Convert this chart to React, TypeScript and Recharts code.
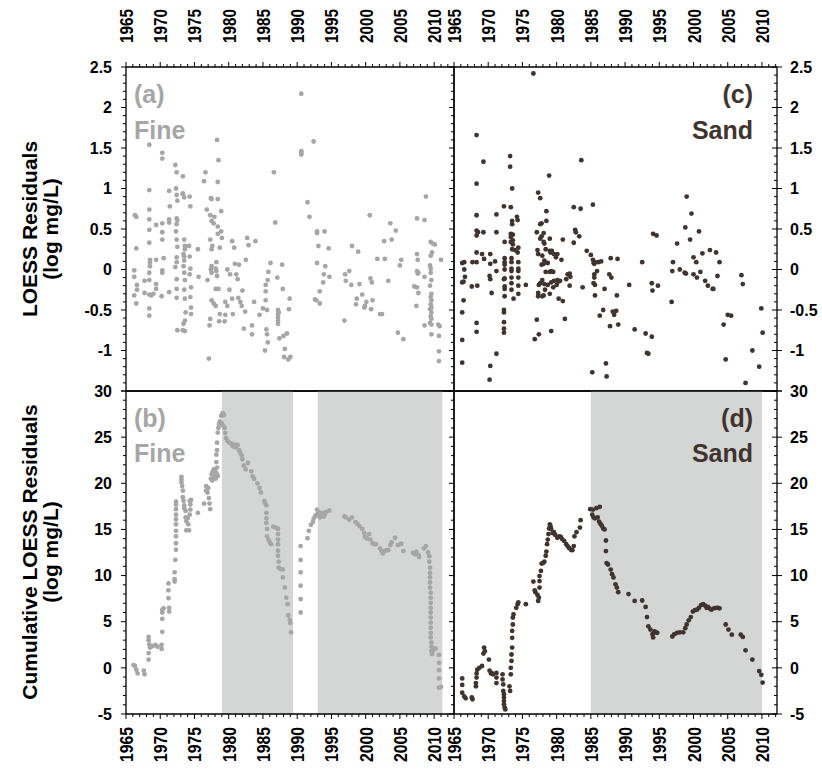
import React from 'react'
import { ScatterChart, Scatter, XAxis, YAxis, ReferenceArea } from 'recharts'

// page is photographed at 822x771; charts are laid over the whole page
const W = 822
const H = 771

const yearLabels = [1965, 1970, 1975, 1980, 1985, 1990, 1995, 2000, 2005, 2010]
const residLabels = [-1, -0.5, 0, 0.5, 1, 1.5, 2, 2.5]
const cumLabels = [-5, 0, 5, 10, 15, 20, 25, 30]

const fineShaded: [number, number][] = [[1979, 1989.4], [1993, 2011.2]]
const sandShaded: [number, number][] = [[1985, 2010]]

// (a) Fine, LOESS residuals [year, log mg/L]
const fineResiduals: [number, number][] = [
  [1966.3, 0.67], [1966.5, 0.65], [1966.5, 0.26], [1966.2, -0.01], [1966.2, -0.09], [1966.6, -0.19], [1966.2, -0.32], [1966.5, -0.42], [1966.6, -0.25],
  [1967.7, -0.14], [1967.7, -0.29],
  [1968.4, 1.54], [1968.4, 0.98], [1968.4, 0.74], [1968.4, 0.62], [1968.4, 0.49], [1968.4, 0.33], [1968.5, 0.12], [1968.5, 0.09], [1968.5, 0.04], [1968.4, -0.04], [1968.4, -0.13], [1968.4, -0.31], [1968.7, -0.32], [1968.4, -0.48], [1968.4, -0.57],
  [1969.0, -0.3], [1969.4, 0.55], [1969.4, 0.12], [1969.4, -0.18], [1969.4, -0.24],
  [1970.3, 1.44], [1970.3, 1.37], [1970.3, 0.57], [1970.3, 0.46], [1970.3, 0.37], [1970.3, -0.01], [1970.5, 0.14], [1970.3, -0.04], [1970.2, -0.33],
  [1971.3, 0.97], [1971.4, 0.78], [1971.3, 0.62], [1971.3, 0.58], [1971.3, -0.28],
  [1972.2, 1.29], [1972.4, 1.2], [1972.3, 1.0], [1972.4, 0.92], [1972.5, 0.85], [1972.4, 0.63], [1972.5, 0.61], [1972.4, 0.56], [1972.3, 0.47], [1972.4, 0.37], [1972.5, 0.28], [1972.4, 0.15], [1972.4, 0.09], [1972.2, 0.03], [1972.4, -0.12], [1972.4, -0.24], [1972.4, -0.35], [1972.5, -0.75],
  [1973.3, 1.15], [1973.3, 0.94], [1973.3, 0.93], [1973.5, 0.89],
  [1973.5, 0.37], [1973.6, 0.29], [1973.6, 0.25], [1973.4, 0.19], [1973.5, 0.16], [1973.5, 0.11], [1973.4, 0.04], [1973.5, -0.04], [1973.6, -0.13], [1973.5, -0.25], [1973.6, -0.36], [1973.7, -0.53], [1973.6, -0.63], [1973.4, -0.67], [1973.3, -0.75], [1973.6, -0.76],
  [1974.3, 0.9], [1974.4, 0.78], [1974.2, 0.29], [1974.3, 0.16], [1974.4, 0.01], [1974.3, -0.06], [1974.5, -0.22], [1974.4, -0.34], [1974.5, -0.47], [1974.5, -0.55],
  [1975.5, 0.25], [1975.6, -0.09],
  [1976.4, 1.09], [1976.6, 1.2], [1976.8, 0.74],
  [1977.4, 0.88], [1977.5, 0.87], [1977.3, 0.67], [1977.5, 0.6], [1977.8, 0.57], [1977.3, 0.37], [1977.6, 0.29], [1977.5, 0.25], [1977.5, 0.04], [1977.4, 0.0], [1977.5, -0.04],
  [1976.9, -0.13], [1977.5, -0.38], [1977.8, -0.42], [1978.1, -0.45], [1977.3, -0.61], [1977.2, -0.69], [1977.1, -1.1],
  [1978.3, 1.6], [1978.5, 1.35], [1978.4, 1.08], [1978.4, 0.87], [1978.9, 0.72], [1977.9, 0.65], [1978.4, 0.53], [1978.4, 0.44], [1978.9, 0.47], [1979.0, 0.39], [1978.7, 0.27],
  [1978.2, 0.09], [1978.1, 0.01], [1978.2, -0.02], [1978.3, -0.08], [1978.5, -0.24], [1978.1, -0.24], [1978.7, -0.55], [1979.4, -0.64], [1978.6, -0.64],
  [1979.5, -0.4], [1979.8, -0.45], [1979.5, -0.56], [1980.5, -0.36], [1980.1, -0.25], [1980.6, -0.55], [1979.8, 0.0],
  [1980.5, 0.35], [1980.8, 0.27], [1980.2, -0.06], [1980.9, 0.07], [1981.1, -0.06], [1981.3, -0.12], [1981.5, 0.06],
  [1981.4, -0.35], [1981.7, -0.4], [1981.9, -0.45], [1982.4, -0.52], [1982.0, -0.26],
  [1982.2, -0.73], [1983.4, -0.69], [1983.4, -0.8], [1983.7, -0.4], [1982.5, 0.12],
  [1982.7, 0.39], [1982.9, 0.3], [1983.9, 0.35], [1984.5, -0.56],
  [1985.0, -0.48], [1985.6, -0.5], [1985.4, -0.19], [1985.7, -0.13], [1985.4, -0.27], [1985.4, -0.38],
  [1985.5, -0.74], [1985.6, -0.8], [1985.7, -0.9], [1985.3, -1.0], [1985.8, -0.03], [1986.1, 0.08],
  [1986.6, 1.2], [1986.8, 0.58],
  [1987.1, -0.1], [1987.2, -0.5], [1987.2, -0.55], [1987.2, -0.59], [1987.2, -0.63], [1987.2, -0.67], [1987.3, -0.53],
  [1987.8, 0.06], [1987.9, -0.24], [1987.4, -0.85], [1988.0, -0.82], [1988.5, -0.79], [1988.2, -0.98], [1988.1, -1.08], [1988.7, -1.11], [1989.0, -1.08], [1988.9, -0.36], [1988.8, -0.49],
  [1990.6, 2.17], [1990.6, 1.46], [1990.6, 1.44], [1990.6, 1.42], [1992.4, 1.58], [1991.5, 0.83], [1991.8, 0.65],
  [1992.9, 0.47], [1992.9, 0.45], [1994.0, 0.47], [1993.1, 0.29], [1994.6, 0.26],
  [1992.9, 0.08], [1994.1, 0.04], [1993.9, -0.06], [1994.7, -0.09], [1993.8, -0.16],
  [1993.3, -0.27], [1992.6, -0.37], [1992.8, -0.38], [1993.3, -0.42],
  [1997.0, -0.06], [1997.1, -0.14], [1997.6, -0.02], [1997.9, -0.19], [1998.9, 0.22], [1998.0, 0.29], [1999.1, -0.18], [1996.9, -0.63],
  [1998.7, -0.36], [1998.6, -0.43], [1999.5, -0.31], [1999.8, -0.47], [2000.1, -0.4], [1999.9, -0.45], [2000.9, -0.16], [2000.7, -0.11], [2001.0, -0.38], [2000.8, -0.49], [2002.1, -0.55], [2002.4, -0.55],
  [2000.6, 0.67],
  [2001.7, 0.13], [2002.8, 0.13], [2002.7, 0.35], [2003.3, -0.14], [2003.8, 0.37], [2003.6, 0.57], [2004.4, 0.48], [2005.0, 0.05], [2005.2, 0.12], [2004.7, -0.78], [2005.5, -0.86],
  [2007.5, 0.63], [2008.6, 0.61], [2008.8, 0.9],
  [2007.5, 0.19], [2007.6, 0.12], [2007.5, -0.02], [2007.7, -0.04], [2007.6, -0.05], [2007.1, -0.21], [2007.5, -0.22], [2007.7, -0.29], [2007.4, -0.45], [2008.6, -0.09], [2008.6, -0.69],
  [2009.5, 0.34], [2009.8, 0.32], [2010.1, 0.31], [2009.7, 0.21], [2009.5, 0.17], [2009.4, 0.05], [2009.5, 0.01], [2009.5, -0.04], [2009.6, -0.13], [2009.4, -0.2], [2009.6, -0.3], [2009.5, -0.34], [2009.6, -0.38], [2009.5, -0.43], [2009.6, -0.47], [2009.4, -0.49], [2009.6, -0.53], [2009.5, -0.58], [2009.6, -0.61], [2009.4, -0.66], [2009.6, -0.68], [2009.6, -0.8],
  [2010.6, -0.68], [2010.8, -0.7], [2010.7, -0.82], [2010.7, -1.01], [2010.7, -1.13], [2011.0, 0.12],
]

// (c) Sand, LOESS residuals
const sandResiduals: [number, number][] = [
  [1976.6, 2.42], [1968.3, 1.66], [1969.3, 1.33], [1968.3, 1.06], [1973.2, 1.4], [1973.2, 1.27], [1973.5, 1.0], [1978.9, 1.16], [1983.6, 1.35], [1977.3, 0.95], [1977.6, 0.88], [1985.3, 0.8], [1983.5, 0.75], [1982.5, 0.77],
  [1968.3, 0.67], [1968.3, 0.48], [1968.5, 0.46], [1968.3, 0.42], [1969.3, 0.46], [1971.2, 0.68], [1971.2, 0.46],
  [1972.3, 0.78], [1973.3, 0.77], [1974.2, 0.65], [1974.3, 0.61], [1973.5, 0.6], [1973.5, 0.56], [1973.3, 0.44], [1973.6, 0.43], [1973.3, 0.4], [1973.6, 0.36], [1973.6, 0.31], [1973.3, 0.34], [1972.4, 0.34], [1974.4, 0.27], [1973.9, 0.24], [1973.5, 0.25], [1974.3, 0.21],
  [1973.4, 0.14], [1972.4, 0.14], [1972.4, 0.09], [1972.4, 0.06], [1973.4, 0.09], [1974.4, 0.09], [1974.4, 0.01], [1974.4, -0.02], [1973.4, 0.01], [1973.4, -0.02], [1972.4, 0.0], [1972.3, -0.12], [1972.4, -0.11], [1973.4, -0.1], [1974.4, -0.1],
  [1973.4, -0.17], [1972.4, -0.21], [1972.4, -0.24], [1974.4, -0.2], [1973.4, -0.25], [1972.4, -0.33], [1974.4, -0.3], [1973.7, -0.36], [1972.3, -0.5], [1972.3, -0.53], [1972.3, -0.65], [1972.3, -0.73], [1972.3, -0.78], [1971.2, -1.04], [1970.3, -1.19], [1970.2, -1.36],
  [1966.2, 0.08], [1966.5, 0.09], [1966.5, 0.0], [1966.6, -0.09], [1966.2, -0.16], [1966.4, -0.15], [1966.4, -0.38], [1966.2, -0.53], [1966.2, -0.87], [1966.2, -1.15], [1967.7, 0.09], [1967.6, -0.21], [1968.3, 0.21], [1968.3, 0.09], [1968.4, -0.2], [1968.3, -0.66], [1968.3, -0.77],
  [1969.1, 0.19], [1969.4, 0.13], [1970.3, 0.19], [1970.3, 0.07], [1970.2, -0.08], [1970.3, -0.12], [1970.5, -0.29], [1971.2, -0.02], [1971.0, 0.1],
  [1975.5, -0.19], [1976.8, -0.86], [1977.4, -0.8], [1977.1, -0.62],
  [1977.1, 0.46], [1977.2, 0.24], [1977.3, 0.19], [1977.6, 0.56], [1977.8, 0.57], [1978.5, 0.72], [1978.5, 0.6], [1978.1, 0.45], [1977.8, 0.41], [1977.6, 0.38], [1978.1, 0.34], [1978.2, 0.32], [1979.0, 0.38], [1978.4, 0.25], [1979.0, 0.23], [1979.1, 0.21], [1979.3, 0.23], [1979.6, 0.19], [1980.1, 0.19], [1979.9, 0.15],
  [1977.9, 0.17], [1978.2, 0.11], [1978.1, 0.07], [1978.7, 0.08], [1977.8, 0.06], [1979.2, -0.02], [1979.5, -0.03], [1979.0, -0.03], [1978.4, -0.03], [1977.9, -0.13], [1977.6, -0.17], [1977.4, -0.19], [1978.2, -0.18], [1978.7, -0.19], [1978.3, -0.25], [1977.3, -0.29], [1977.3, -0.33], [1977.9, -0.33], [1978.1, -0.32],
  [1979.0, -0.3], [1979.5, -0.22], [1979.2, -0.16], [1979.6, -0.14], [1980.1, -0.13], [1980.5, -0.14], [1980.7, 0.12], [1980.9, 0.37], [1980.3, -0.36], [1980.9, -0.39], [1981.2, -0.61], [1979.2, -0.76], [1980.0, -0.19], [1980.2, -0.15],
  [1981.4, -0.12], [1981.6, -0.06], [1981.9, -0.05], [1982.0, -0.09], [1981.9, -0.2], [1982.5, 0.33], [1982.7, 0.49], [1982.8, 0.46], [1983.3, 0.41], [1983.8, -0.22], [1984.4, 0.23], [1985.0, 0.18], [1985.3, 0.12], [1985.4, 0.08], [1985.5, 0.07], [1985.6, 0.09], [1986.1, 0.09], [1986.5, 0.1], [1985.9, -0.02], [1985.5, -0.06], [1985.5, -0.1], [1985.4, -0.17], [1985.6, -0.19], [1985.6, -0.32],
  [1987.9, 0.14], [1988.9, 0.13], [1987.7, -0.06], [1988.0, -0.1], [1987.0, -0.24], [1988.8, -0.32], [1986.8, -0.5], [1986.3, -0.57], [1988.2, -0.52], [1988.7, -0.51], [1988.4, -0.56], [1987.8, -0.7], [1989.0, -0.68], [1987.2, -1.16], [1987.3, -1.32], [1985.2, -1.27],
  [1990.6, -0.19], [1991.4, -0.74], [1992.5, 0.09], [1993.0, -0.79], [1993.2, -1.03], [1993.4, -1.04], [1993.9, -0.83], [1993.9, -0.17], [1994.0, -0.26], [1994.8, -0.2], [1994.1, 0.44], [1994.6, 0.42],
  [1996.8, -0.4], [1997.0, 0.09], [1996.9, -0.02], [1997.6, 0.32], [1998.0, 0.0], [1998.7, -0.04], [1998.9, -0.05], [1998.8, 0.52], [1999.0, 0.9], [1999.5, 0.37], [1999.7, 0.69], [2000.0, 0.15], [2000.0, -0.06], [2000.4, 0.09], [2000.5, -0.1], [2000.8, 0.47], [2001.0, -0.03], [2001.3, 0.2], [2001.7, -0.14], [2002.1, -0.2], [2002.4, 0.24], [2002.8, -0.24], [2002.9, -0.24], [2003.3, 0.21], [2003.8, 0.09], [2003.5, -0.08],
  [2004.4, -0.68], [2005.0, -0.56], [2005.5, -0.57], [2004.7, -1.11], [2007.0, -0.07], [2007.2, -0.18], [2007.6, -1.4], [2008.6, -1.0], [2009.6, -1.2], [2009.9, -0.48], [2010.1, -0.78],
]

// (b) Fine, cumulative LOESS residuals
const fineCumulative: [number, number][] = [
  [1966.1, 0.3], [1966.3, 0.2], [1966.5, -0.2], [1966.7, -0.6], [1967.6, -0.3], [1967.7, -0.7],
  [1968.3, 3.35], [1968.3, 3.0], [1968.4, 2.55], [1968.5, 2.2], [1968.3, 1.6], [1968.3, 0.9], [1968.9, 2.35], [1969.3, 2.5], [1969.6, 2.3], [1970.2, 2.5], [1970.2, 2.05], [1970.3, 3.9], [1970.3, 5.3], [1970.3, 6.0], [1970.5, 6.45], [1970.3, 6.3],
  [1971.3, 6.5], [1971.3, 6.1], [1971.2, 7.55], [1971.2, 8.4], [1971.2, 9.15], [1972.1, 9.35], [1972.1, 9.6], [1972.1, 10.35], [1972.2, 11.7], [1972.3, 12.8], [1972.3, 13.5], [1972.3, 14.25], [1972.3, 14.85],
  [1972.3, 15.55], [1972.3, 16.1], [1972.3, 16.6], [1972.3, 17.2], [1972.3, 17.7], [1972.3, 18.0],
  [1973.1, 20.7], [1973.1, 20.4], [1973.1, 20.1], [1973.2, 19.7], [1973.3, 19.2], [1973.3, 18.5], [1973.4, 18.1], [1973.5, 17.6], [1973.5, 17.3], [1973.7, 17.0], [1973.7, 16.3], [1973.8, 15.9], [1973.8, 14.9], [1974.2, 14.9], [1974.1, 15.55], [1974.0, 16.2], [1974.3, 16.6], [1974.4, 17.15], [1974.4, 17.7], [1974.4, 18.1], [1974.5, 18.2], [1974.3, 18.1],
  [1975.5, 16.8], [1976.4, 17.8], [1976.7, 19.7], [1976.7, 19.2], [1976.9, 19.0], [1977.1, 18.4], [1977.2, 17.8], [1977.3, 17.2], [1977.0, 19.5],
  [1977.4, 20.5], [1977.5, 21.0], [1977.7, 21.3], [1977.8, 21.5], [1978.0, 21.5], [1978.2, 21.1], [1978.3, 21.7], [1978.4, 20.8], [1977.9, 20.75], [1978.1, 20.5], [1977.6, 20.3],
  [1978.2, 22.3], [1978.2, 23.1], [1978.3, 23.6], [1978.3, 24.4], [1978.4, 25.5], [1978.5, 26.0], [1978.6, 26.4], [1978.7, 26.7], [1978.9, 27.3], [1979.1, 27.6], [1979.3, 27.4], [1979.0, 26.5], [1979.2, 26.2], [1979.4, 26.0], [1979.5, 25.45],
  [1979.6, 24.9], [1979.8, 24.6], [1980.1, 24.4], [1980.4, 24.3], [1980.6, 24.0], [1980.9, 24.2], [1981.0, 23.9], [1981.3, 24.15], [1981.5, 23.6], [1981.7, 23.3], [1981.9, 23.0], [1982.0, 22.6], [1982.2, 21.9], [1982.5, 21.5], [1982.8, 22.2],
  [1983.3, 21.3], [1983.5, 20.75], [1983.7, 20.5], [1984.2, 20.0], [1984.5, 19.5], [1984.7, 19.0], [1985.2, 18.1], [1985.3, 17.9], [1985.5, 17.6], [1985.5, 16.8], [1985.5, 16.2], [1985.5, 15.7], [1985.6, 15.05], [1985.6, 14.25], [1985.8, 13.9], [1986.0, 13.6], [1986.2, 13.4],
  [1986.5, 15.3], [1986.9, 15.2], [1987.2, 15.05], [1987.2, 14.5], [1987.2, 13.9], [1987.2, 13.4], [1987.2, 12.7], [1987.2, 12.15], [1987.3, 11.5], [1987.3, 10.85], [1987.6, 10.7], [1987.9, 10.65], [1987.9, 9.8], [1988.2, 8.7], [1988.4, 7.6], [1988.6, 6.9], [1988.7, 5.7], [1988.9, 5.2], [1989.0, 4.85], [1989.1, 3.85],
  [1990.5, 6.0], [1990.5, 7.45], [1990.5, 8.9], [1990.5, 10.35], [1990.5, 11.7], [1990.5, 13.2], [1991.5, 14.05], [1991.7, 14.85], [1992.0, 15.5], [1992.3, 15.8], [1992.4, 16.15], [1992.6, 16.4], [1992.8, 16.6], [1992.9, 17.15], [1993.1, 16.85], [1993.3, 16.3], [1993.4, 16.6], [1993.6, 16.8], [1993.9, 16.4], [1994.0, 16.6], [1994.2, 16.9], [1994.7, 17.05],
  [1996.9, 16.4], [1997.1, 16.3], [1997.6, 16.05], [1998.0, 16.3], [1998.5, 15.8], [1998.8, 15.6], [1999.1, 15.35], [1999.5, 15.05], [1999.8, 14.6], [1999.9, 14.2], [2000.2, 14.0], [2000.5, 14.5], [2000.7, 13.9], [2001.0, 13.5], [2001.3, 13.4], [2001.5, 13.4],
  [2002.1, 12.95], [2002.3, 12.65], [2002.5, 12.4], [2002.7, 12.65], [2003.0, 12.75], [2003.3, 12.75], [2003.6, 13.3], [2003.8, 13.6], [2004.3, 14.1], [2004.7, 13.3], [2005.2, 13.45], [2005.5, 12.65],
  [2006.9, 12.45], [2007.2, 12.3], [2007.4, 12.6], [2007.7, 12.25], [2007.8, 12.0], [2008.5, 12.95], [2008.8, 13.2], [2009.1, 12.5], [2009.3, 12.1], [2009.3, 11.5],
  [2009.4, 10.85], [2009.4, 10.3], [2009.4, 9.8], [2009.4, 9.25], [2009.4, 8.7], [2009.5, 8.15], [2009.5, 7.6], [2009.5, 7.05], [2009.5, 6.5], [2009.5, 6.0], [2009.5, 5.45], [2009.5, 4.9], [2009.5, 4.35], [2009.5, 3.8], [2009.5, 3.3], [2009.6, 2.75], [2009.6, 2.3], [2009.6, 1.85], [2009.7, 1.5], [2009.8, 1.85], [2010.0, 2.0], [2010.2, 2.1],
  [2010.7, 1.4], [2010.7, 0.55], [2010.7, -0.25], [2010.7, -1.15], [2010.7, -2.15], [2011.0, -2.05],
]

// (d) Sand, cumulative LOESS residuals
const sandCumulative: [number, number][] = [
  [1966.2, -1.15], [1966.2, -1.85], [1966.2, -2.7], [1966.5, -3.1], [1966.7, -3.3], [1967.6, -3.2], [1967.7, -3.4],
  [1968.2, -2.0], [1968.2, -1.65], [1968.3, -1.05], [1968.3, -0.6], [1968.4, -0.2], [1968.7, 0.0], [1969.1, 0.2], [1969.3, 1.55], [1969.4, 2.2], [1969.5, 1.8], [1970.1, 0.9], [1970.2, -0.3], [1970.4, -0.6], [1970.5, -0.55], [1970.7, -0.7],
  [1971.2, -0.55], [1971.2, -1.05], [1971.2, -1.65], [1972.1, -0.7], [1972.1, -1.25], [1972.2, -1.8], [1972.2, -2.5], [1972.3, -2.85], [1972.3, -3.2], [1972.3, -3.6], [1972.3, -3.95], [1972.4, -4.3], [1972.5, -4.5],
  [1973.1, -2.0], [1973.2, -2.5], [1973.3, -0.7], [1973.3, 0.0], [1973.4, 0.75], [1973.4, 1.45], [1973.5, 2.2], [1973.5, 3.25], [1973.5, 4.0], [1973.6, 4.7], [1973.6, 5.45], [1973.7, 5.8], [1974.1, 6.5], [1974.3, 6.9], [1974.4, 7.1], [1975.5, 6.9],
  [1976.6, 9.35], [1976.8, 8.4], [1976.9, 8.2], [1977.2, 7.9], [1977.3, 7.25], [1977.4, 7.6], [1977.5, 8.7], [1977.5, 9.4], [1977.5, 9.95], [1977.7, 10.5], [1977.8, 11.3], [1978.0, 11.35], [1978.2, 11.5], [1978.4, 12.15], [1978.5, 12.6],
  [1978.6, 13.4], [1978.7, 13.9], [1978.8, 14.5], [1978.9, 15.1], [1979.1, 15.35], [1979.0, 15.55], [1979.2, 15.05], [1979.4, 14.6], [1979.6, 14.7], [1979.8, 14.4], [1980.1, 14.1], [1980.4, 14.25], [1980.6, 14.2], [1980.8, 13.95],
  [1981.1, 13.75], [1981.4, 13.4], [1981.6, 13.2], [1981.8, 13.0], [1982.1, 12.8], [1982.3, 12.75], [1982.5, 13.2], [1982.6, 14.25], [1982.9, 14.7], [1983.4, 15.2], [1983.5, 16.0],
  [1984.9, 17.2], [1985.3, 17.15], [1985.8, 17.3], [1986.3, 17.45], [1985.2, 16.6], [1985.4, 16.3], [1985.6, 16.2], [1986.0, 16.3], [1986.2, 15.85], [1986.4, 15.6], [1986.6, 15.4], [1986.8, 15.1], [1987.0, 15.0],
  [1987.2, 13.8], [1987.2, 12.65], [1987.3, 11.35], [1987.5, 11.2], [1987.9, 10.65], [1988.1, 10.15], [1988.3, 9.8], [1988.6, 9.05], [1988.8, 8.7], [1989.0, 8.2],
  [1990.5, 8.0], [1991.4, 7.25], [1992.5, 7.3], [1993.0, 6.6], [1993.2, 5.5], [1993.4, 4.5], [1993.7, 4.15], [1994.0, 3.65], [1994.1, 3.3], [1994.3, 3.95], [1994.5, 3.85], [1994.7, 3.8],
  [1996.9, 3.4], [1997.2, 3.65], [1997.6, 3.8], [1998.0, 3.85], [1998.5, 3.85], [1998.8, 4.3], [1999.0, 4.7], [1999.3, 5.15], [1999.6, 5.5], [1999.9, 6.1], [2000.2, 6.25], [2000.5, 6.3], [2000.8, 6.5], [2001.1, 6.8], [2001.4, 6.9], [2001.7, 6.75],
  [2001.9, 6.5], [2002.1, 6.6], [2002.3, 6.45], [2002.6, 6.3], [2003.0, 6.45], [2003.3, 6.5], [2003.6, 6.5], [2003.8, 6.45],
  [2004.7, 4.7], [2005.1, 4.15], [2005.6, 3.6], [2006.9, 3.6], [2007.2, 3.35], [2007.6, 1.9], [2008.6, 0.9], [2009.6, -0.35], [2009.9, -0.75], [2010.1, -1.6],
]

const FONT = "Arial, 'Liberation Sans', sans-serif"
const GREY = '#a6a6a6'
const BROWN = '#41332e'
const SHADE = '#d4d6d5'

// plot boxes in page pixels
const LEFT_X = 126
const MID_X = 454
const RIGHT_X = 777
const TOP_Y = 67
const MID_Y = 391
const BOTTOM_Y = 714

const stepTicks = (lo: number, hi: number, step: number) => {
  const out: number[] = []
  for (let v = lo; v <= hi + 1e-9; v += step) out.push(Math.round(v * 100) / 100)
  return out
}

const XTick = (props: any) => {
  const { x, y, payload, dir, labelSide } = props
  const v = payload.value
  const major = yearLabels.includes(v)
  const len = major ? 5 : 3
  const top = labelSide === 'top'
  return (
    <g>
      <line x1={x} x2={x} y1={y} y2={y + dir * len} stroke="#000" strokeWidth={1} />
      {labelSide && major && (
        // year labels in the original are tall and narrow
        <text
          transform={`translate(${x + 7},${top ? y - 24 : y + 13}) rotate(-90)`}
          textAnchor={top ? 'start' : 'end'}
          textLength={top ? 34 : 35}
          lengthAdjust="spacingAndGlyphs"
          fontFamily={FONT}
          fontWeight="bold"
          fontSize={19}
          fill="#000"
        >
          {v}
        </text>
      )}
    </g>
  )
}

const YTick = (props: any) => {
  const { x, y, payload, labels, majorStep, labelSide, cross } = props
  const v = payload.value
  const major = Math.abs(v / majorStep - Math.round(v / majorStep)) < 1e-6
  const len = major ? 5 : 3
  const showLabel = labelSide && labels.includes(v)
  return (
    <g>
      <line x1={cross && major ? x + len : x} x2={x - len} y1={y} y2={y} stroke="#000" strokeWidth={1} />
      {showLabel && (
        <text
          x={labelSide === 'left' ? x - 14 : x + 13}
          y={y}
          dy="0.36em"
          textAnchor={labelSide === 'left' ? 'end' : 'start'}
          fontFamily={FONT}
          fontWeight="bold"
          fontSize={16}
          fill="#000"
        >
          {v}
        </text>
      )}
    </g>
  )
}

type PanelProps = {
  x0: number
  x1: number
  y0: number
  y1: number
  xMax: number
  yDomain: [number, number]
  yMinor: number
  yMajor: number
  yLabels: number[]
  points: [number, number][]
  color: string
  shaded: [number, number][]
  side: 'left' | 'right'
  row: 'top' | 'bottom'
}

const Panel = ({ x0, x1, y0, y1, xMax, yDomain, yMinor, yMajor, yLabels, points, color, shaded, side, row }: PanelProps) => {
  const data = points.map(([year, value]) => ({ year, value }))
  const xTicks = stepTicks(1965, Math.floor(xMax), 1)
  const yTicks = stepTicks(yDomain[0], yDomain[1], yMinor)
  const axisLine = { stroke: '#000', strokeWidth: 1.3 }
  // axes take 1px each; margins shrink by that so the plot box lands on x0..x1, y0..y1
  return (
    <div style={{ position: 'absolute', left: 0, top: 0 }}>
      <ScatterChart width={W} height={H} margin={{ top: y0 - 1, left: x0 - 1, right: W - x1 - 1, bottom: H - y1 - 1 }}>
        <XAxis
          xAxisId="x"
          dataKey="year"
          type="number"
          orientation={row === 'top' ? 'top' : 'bottom'}
          domain={[1965, xMax]}
          allowDataOverflow
          ticks={xTicks}
          interval={0}
          height={1}
          tickSize={0}
          tickMargin={0}
          tickLine={false}
          axisLine={axisLine}
          tick={(p: any) => <XTick {...p} dir={row === 'top' ? -1 : 1} labelSide={row} />}
        />
        <XAxis
          xAxisId="x2"
          type="number"
          orientation={row === 'top' ? 'bottom' : 'top'}
          domain={[1965, xMax]}
          allowDataOverflow
          ticks={xTicks}
          interval={0}
          height={1}
          tickSize={0}
          tickMargin={0}
          tickLine={false}
          axisLine={axisLine}
          tick={row === 'top' ? (p: any) => <XTick {...p} dir={1} labelSide={null} /> : false}
        />
        <YAxis
          yAxisId="y"
          dataKey="value"
          type="number"
          orientation="left"
          domain={yDomain}
          allowDataOverflow
          ticks={yTicks}
          interval={0}
          width={1}
          tickSize={0}
          tickMargin={0}
          tickLine={false}
          axisLine={axisLine}
          tick={(p: any) => (
            <YTick {...p} labels={yLabels} majorStep={yMajor} labelSide={side === 'left' ? 'left' : null} cross={false} />
          )}
        />
        <YAxis
          yAxisId="y2"
          type="number"
          orientation="right"
          domain={yDomain}
          allowDataOverflow
          ticks={yTicks}
          interval={0}
          width={1}
          tickSize={0}
          tickMargin={0}
          tickLine={false}
          axisLine={axisLine}
          tick={side === 'right' ? (p: any) => (
            <YTick {...p} labels={yLabels} majorStep={yMajor} labelSide="right" cross />
          ) : false}
        />
        {shaded.map(([a, b]) => (
          <ReferenceArea key={a} xAxisId="x" yAxisId="y" x1={a} x2={b} fill={SHADE} fillOpacity={1} stroke="none" ifOverflow="hidden" />
        ))}
        <Scatter
          data={data}
          xAxisId="x"
          yAxisId="y"
          fill={color}
          isAnimationActive={false}
          shape={(p: any) => <circle cx={p.cx} cy={p.cy} r={2.4} fill={color} />}
        />
      </ScatterChart>
    </div>
  )
}

const labelStyle = { fontFamily: FONT, fontWeight: 'bold' as const, fontSize: 25 }
const titleStyle = { fontFamily: FONT, fontWeight: 'bold' as const, fontSize: 21 }

export default function App() {
  const topDomain: [number, number] = [-1.5, 2.5]
  const bottomDomain: [number, number] = [-5, 30]
  return (
    <div style={{ position: 'absolute', left: 0, top: 0, width: W, height: H, background: '#fff' }}>
      <Panel x0={LEFT_X} x1={MID_X} y0={TOP_Y} y1={MID_Y} xMax={2012.9} yDomain={topDomain} yMinor={0.1} yMajor={0.5}
        yLabels={residLabels} points={fineResiduals} color={GREY} shaded={[]} side="left" row="top" />
      <Panel x0={MID_X} x1={RIGHT_X} y0={TOP_Y} y1={MID_Y} xMax={2012.2} yDomain={topDomain} yMinor={0.1} yMajor={0.5}
        yLabels={residLabels} points={sandResiduals} color={BROWN} shaded={[]} side="right" row="top" />
      <Panel x0={LEFT_X} x1={MID_X} y0={MID_Y} y1={BOTTOM_Y} xMax={2012.9} yDomain={bottomDomain} yMinor={1} yMajor={5}
        yLabels={cumLabels} points={fineCumulative} color={GREY} shaded={fineShaded} side="left" row="bottom" />
      <Panel x0={MID_X} x1={RIGHT_X} y0={MID_Y} y1={BOTTOM_Y} xMax={2012.2} yDomain={bottomDomain} yMinor={1} yMajor={5}
        yLabels={cumLabels} points={sandCumulative} color={BROWN} shaded={sandShaded} side="right" row="bottom" />
      <svg width={W} height={H} style={{ position: 'absolute', left: 0, top: 0, pointerEvents: 'none' }}>
        <text x={134} y={103} fill={GREY} {...labelStyle}>(a)</text>
        <text x={134} y={139} fill={GREY} {...labelStyle}>Fine</text>
        <text x={753} y={103} fill={BROWN} textAnchor="end" {...labelStyle}>(c)</text>
        <text x={753} y={139} fill={BROWN} textAnchor="end" {...labelStyle}>Sand</text>
        <text x={134} y={427} fill={GREY} {...labelStyle}>(b)</text>
        <text x={134} y={462} fill={GREY} {...labelStyle}>Fine</text>
        <text x={753} y={427} fill={BROWN} textAnchor="end" {...labelStyle}>(d)</text>
        <text x={753} y={462} fill={BROWN} textAnchor="end" {...labelStyle}>Sand</text>
        <text transform="translate(37,229) rotate(-90)" textAnchor="middle" {...titleStyle}>LOESS Residuals</text>
        <text transform="translate(58,229) rotate(-90)" textAnchor="middle" {...titleStyle}>(log mg/L)</text>
        <text transform="translate(37,552) rotate(-90)" textAnchor="middle" {...titleStyle}>Cumulative LOESS Residuals</text>
        <text transform="translate(58,552) rotate(-90)" textAnchor="middle" {...titleStyle}>(log mg/L)</text>
      </svg>
    </div>
  )
}
